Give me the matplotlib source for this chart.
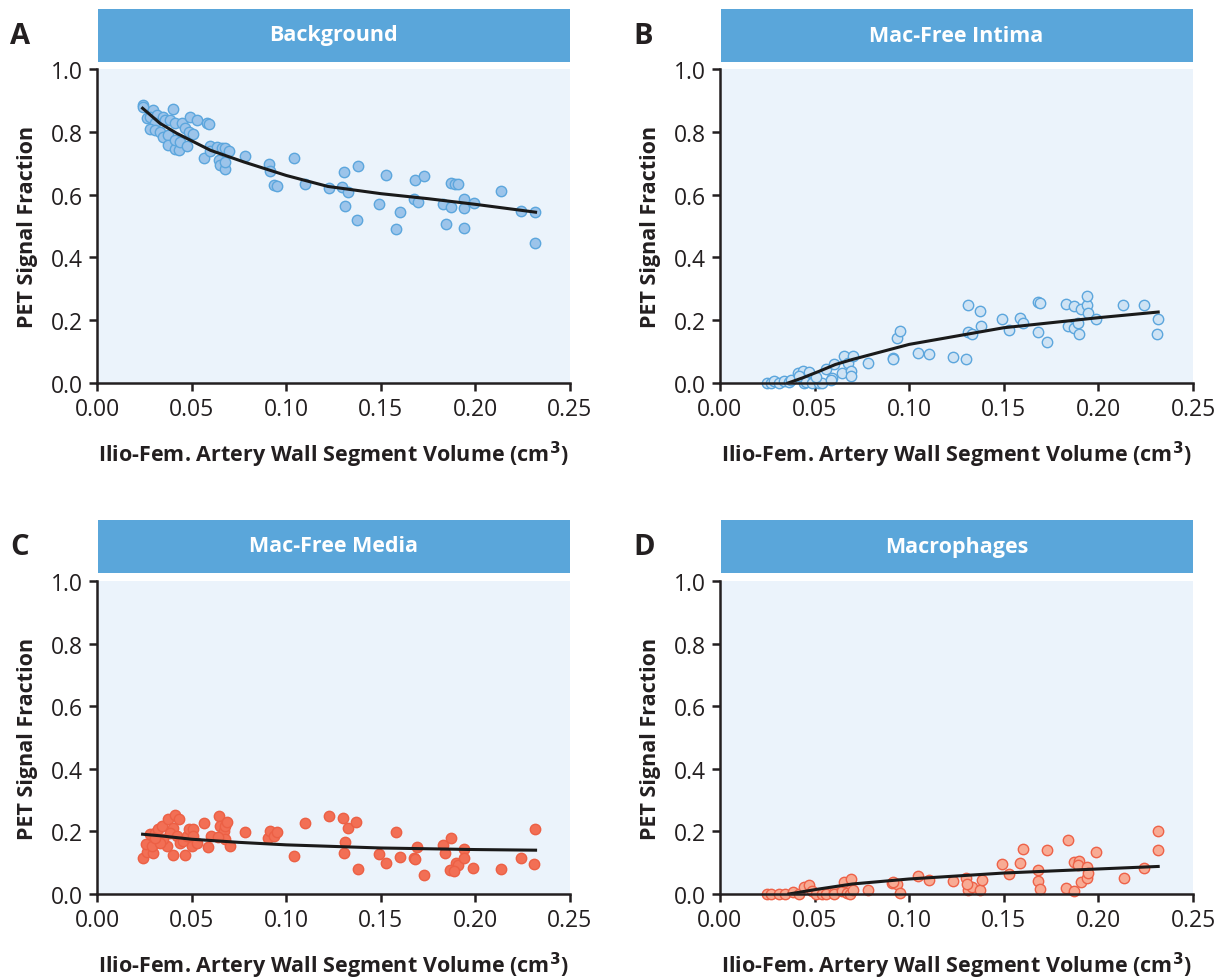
import matplotlib
matplotlib.use("Agg")
import matplotlib.pyplot as plt
from matplotlib.patches import Rectangle

plt.rcParams['font.family'] = ['Open Sans', 'DejaVu Sans']

# ---------------- data ----------------
bg_x = [0.0241, 0.0245, 0.0298, 0.0400, 0.0262, 0.0280, 0.0315, 0.0350, 0.0360, 0.0386,
        0.0413, 0.0448, 0.0466, 0.0307, 0.0280, 0.0307, 0.0333, 0.0350, 0.0377, 0.0377,
        0.0413, 0.0436, 0.0413, 0.0440, 0.0475, 0.0484, 0.0510, 0.0493, 0.0528, 0.0581,
        0.0590, 0.0563, 0.0595, 0.0595, 0.0634, 0.0661, 0.0679, 0.0696, 0.0643, 0.0648,
        0.0679, 0.0679, 0.0781, 0.0909, 0.0914, 0.0936, 0.0950, 0.1042, 0.1100, 0.1228,
        0.1295, 0.1329, 0.1308, 0.1378, 0.1311, 0.1373, 0.1490, 0.1529, 0.1600, 0.1582,
        0.1680, 0.1729, 0.1676, 0.1694, 0.1827, 0.1871, 0.1843, 0.1871, 0.1892, 0.1910,
        0.1942, 0.1940, 0.1942, 0.1990, 0.2135, 0.2243, 0.2314, 0.2314]
bg_y = [0.885, 0.880, 0.869, 0.872, 0.843, 0.848, 0.853, 0.848, 0.837, 0.837,
        0.827, 0.827, 0.811, 0.827, 0.808, 0.805, 0.800, 0.784, 0.789, 0.757,
        0.745, 0.743, 0.773, 0.768, 0.755, 0.798, 0.792, 0.848, 0.837, 0.827,
        0.826, 0.717, 0.755, 0.738, 0.752, 0.749, 0.749, 0.738, 0.709, 0.693,
        0.682, 0.704, 0.722, 0.699, 0.674, 0.631, 0.627, 0.718, 0.633, 0.621,
        0.624, 0.608, 0.672, 0.690, 0.565, 0.519, 0.571, 0.663, 0.544, 0.489,
        0.645, 0.659, 0.587, 0.578, 0.571, 0.560, 0.507, 0.637, 0.635, 0.633,
        0.585, 0.557, 0.495, 0.573, 0.610, 0.549, 0.544, 0.445]
bg_fit_x = [0.0241, 0.0333, 0.0422, 0.0600, 0.0776, 0.1000, 0.1220, 0.1500, 0.1750, 0.2000, 0.2318]
bg_fit_y = [0.875, 0.827, 0.795, 0.741, 0.704, 0.661, 0.626, 0.603, 0.587, 0.569, 0.544]

in_x = [0.0249, 0.0267, 0.0285, 0.0311, 0.0337, 0.0364, 0.0373, 0.0413, 0.0438, 0.0470,
        0.0443, 0.0417, 0.0452, 0.0488, 0.0523, 0.0541, 0.0509, 0.0558, 0.0602, 0.0594,
        0.0585, 0.0643, 0.0655, 0.0678, 0.0691, 0.0691, 0.0705, 0.0784, 0.0912, 0.0917,
        0.0938, 0.0952, 0.1046, 0.1104, 0.1230, 0.1300, 0.1309, 0.1309, 0.1332, 0.1373,
        0.1382, 0.1489, 0.1530, 0.1583, 0.1601, 0.1680, 0.1680, 0.1693, 0.1730, 0.1830,
        0.1871, 0.1839, 0.1871, 0.1898, 0.1892, 0.1910, 0.1940, 0.1942, 0.1945, 0.1988,
        0.2131, 0.2240, 0.2316, 0.2309]
in_y = [0.000, 0.000, 0.005, 0.000, 0.005, 0.002, 0.009, 0.032, 0.037, 0.034,
        0.000, 0.021, 0.002, 0.000, 0.000, 0.000, 0.019, 0.043, 0.062, 0.016,
        0.011, 0.032, 0.085, 0.064, 0.037, 0.023, 0.087, 0.064, 0.080, 0.078,
        0.144, 0.165, 0.096, 0.092, 0.082, 0.078, 0.250, 0.162, 0.155, 0.228,
        0.180, 0.203, 0.170, 0.208, 0.190, 0.164, 0.257, 0.256, 0.131, 0.253,
        0.245, 0.181, 0.175, 0.155, 0.192, 0.235, 0.247, 0.277, 0.224, 0.205,
        0.249, 0.249, 0.205, 0.155]
in_fit_x = [0.0360, 0.0435, 0.0523, 0.0610, 0.0700, 0.1000, 0.1500, 0.2000, 0.2316]
in_fit_y = [0.000, 0.016, 0.037, 0.059, 0.075, 0.123, 0.176, 0.208, 0.226]

md_x = [0.0241, 0.0262, 0.0259, 0.0298, 0.0289, 0.0280, 0.0307, 0.0324, 0.0342, 0.0377,
        0.0413, 0.0436, 0.0404, 0.0386, 0.0369, 0.0351, 0.0333, 0.0307, 0.0404, 0.0466,
        0.0422, 0.0439, 0.0457, 0.0475, 0.0484, 0.0510, 0.0507, 0.0502, 0.0528, 0.0563,
        0.0585, 0.0600, 0.0647, 0.0652, 0.0670, 0.0679, 0.0687, 0.0679, 0.0638, 0.0702,
        0.0781, 0.0904, 0.0913, 0.0936, 0.0950, 0.1042, 0.1100, 0.1228, 0.1299, 0.1329,
        0.1371, 0.1311, 0.1308, 0.1378, 0.1490, 0.1529, 0.1582, 0.1602, 0.1676, 0.1680,
        0.1690, 0.1729, 0.1830, 0.1839, 0.1871, 0.1896, 0.1910, 0.1866, 0.1889, 0.1940,
        0.1942, 0.1986, 0.2135, 0.2243, 0.2314, 0.2312]
md_y = [0.115, 0.134, 0.159, 0.130, 0.153, 0.191, 0.196, 0.207, 0.218, 0.239,
        0.252, 0.241, 0.212, 0.196, 0.153, 0.175, 0.164, 0.180, 0.125, 0.125,
        0.186, 0.164, 0.170, 0.186, 0.207, 0.207, 0.186, 0.154, 0.164, 0.228,
        0.150, 0.186, 0.250, 0.218, 0.202, 0.218, 0.231, 0.177, 0.182, 0.154,
        0.198, 0.180, 0.201, 0.186, 0.199, 0.122, 0.226, 0.250, 0.243, 0.211,
        0.230, 0.167, 0.132, 0.079, 0.129, 0.098, 0.198, 0.119, 0.115, 0.111,
        0.151, 0.060, 0.156, 0.132, 0.180, 0.098, 0.092, 0.077, 0.072, 0.145,
        0.116, 0.082, 0.081, 0.114, 0.207, 0.096]
md_fit_x = [0.0241, 0.0333, 0.0500, 0.0750, 0.1000, 0.1500, 0.2000, 0.2318]
md_fit_y = [0.191, 0.186, 0.175, 0.165, 0.157, 0.147, 0.142, 0.140]

mc_x = [0.0249, 0.0267, 0.0311, 0.0346, 0.0385, 0.0417, 0.0443, 0.0470, 0.0488, 0.0509,
        0.0541, 0.0558, 0.0602, 0.0603, 0.0643, 0.0673, 0.0686, 0.0655, 0.0691, 0.0705,
        0.0784, 0.0908, 0.0938, 0.0915, 0.0951, 0.1046, 0.1104, 0.1230, 0.1300, 0.1309,
        0.1332, 0.1304, 0.1376, 0.1383, 0.1491, 0.1530, 0.1583, 0.1601, 0.1680, 0.1680,
        0.1693, 0.1730, 0.1830, 0.1871, 0.1841, 0.1871, 0.1898, 0.1892, 0.1910, 0.1942,
        0.1940, 0.1945, 0.1988, 0.2133, 0.2240, 0.2313, 0.2313]
mc_y = [0.000, 0.000, 0.000, 0.000, 0.006, 0.000, 0.021, 0.029, 0.011, 0.000,
        0.000, 0.000, 0.007, 0.000, 0.011, 0.004, 0.000, 0.037, 0.048, 0.014,
        0.013, 0.035, 0.032, 0.037, 0.002, 0.059, 0.046, 0.043, 0.050, 0.014,
        0.021, 0.032, 0.014, 0.046, 0.095, 0.064, 0.098, 0.143, 0.078, 0.043,
        0.015, 0.142, 0.018, 0.011, 0.172, 0.102, 0.107, 0.094, 0.039, 0.087,
        0.050, 0.066, 0.134, 0.052, 0.082, 0.200, 0.141]
mc_fit_x = [0.0364, 0.0523, 0.0700, 0.1000, 0.1500, 0.2000, 0.2316]
mc_fit_y = [0.000, 0.016, 0.032, 0.048, 0.067, 0.080, 0.088]

panels = [
    ("A", "Background", bg_x, bg_y, bg_fit_x, bg_fit_y, "#9cc4ea", "#5ca6dd"),
    ("B", "Mac-Free Intima", in_x, in_y, in_fit_x, in_fit_y, "#cfe3f4", "#5ca6dd"),
    ("C", "Mac-Free Media", md_x, md_y, md_fit_x, md_fit_y, "#f26f55", "#ec6045"),
    ("D", "Macrophages", mc_x, mc_y, mc_fit_x, mc_fit_y, "#f8ab94", "#ee6248"),
]

W, H = 1227, 979
fig = plt.figure(figsize=(W / 100, H / 100), dpi=100)

# axes boxes in pixels: (left, top, right, bottom)
boxes = [(97, 70, 570, 384), (720, 70, 1193, 384),
         (97, 582, 570, 895), (720, 582, 1193, 895)]
header_tops = [10, 521]
dark = "#231f20"

for i, (letter, title, x, y, fx, fy, fc, ec) in enumerate(panels):
    l, t, r, b = boxes[i]
    ax = fig.add_axes([l / W, 1 - b / H, (r - l) / W, (b - t) / H])
    ax.set_facecolor("#ebf3fb")
    ax.scatter(x, y, s=56, c=fc, edgecolors=ec, linewidths=1.0, zorder=3,
               clip_on=False)
    ax.plot(fx, fy, color="#1a1a1a", lw=2.2, zorder=4)
    ax.set_xlim(0, 0.25)
    ax.set_ylim(0, 1.0)
    ax.set_xticks([0, 0.05, 0.10, 0.15, 0.20, 0.25])
    ax.set_xticklabels(["0.00", "0.05", "0.10", "0.15", "0.20", "0.25"])
    ax.set_yticks([0, 0.2, 0.4, 0.6, 0.8, 1.0])
    ax.set_yticklabels(["0.0", "0.2", "0.4", "0.6", "0.8", "1.0"])
    for s in ["top", "right"]:
        ax.spines[s].set_visible(False)
    for s in ["left", "bottom"]:
        ax.spines[s].set_color(dark)
        ax.spines[s].set_linewidth(1.8)
        ax.spines[s].set_zorder(5)
    ax.tick_params(direction="out", length=6, width=1.8, color=dark,
                   labelsize=16.5, labelcolor=dark, pad=4)
    ax.set_ylabel("PET Signal Fraction", fontsize=15.5, fontweight="bold",
                  color=dark, labelpad=9)
    ax.set_xlabel("Ilio-Fem. Artery Wall Segment Volume (cm$^\\mathbf{3}$)",
                  fontsize=15.5, fontweight="bold", color=dark, labelpad=13)

    # header strip
    ht = header_tops[i // 2]
    fig.patches.append(Rectangle(((l + 1) / W, 1 - (ht + 53) / H), (r - l - 1) / W, 53 / H,
                                 transform=fig.transFigure, facecolor="#5aa6da",
                                 edgecolor="none"))
    fig.text((l + r) / 2 / W, 1 - (ht + 26) / H, title, ha="center", va="center",
             color="white", fontsize=15.5, fontweight="bold")
    fig.text((l - 87) / W, 1 - (ht + 27) / H, letter, ha="left", va="center",
             color=dark, fontsize=21, fontweight="bold")

fig.savefig("out.png", dpi=100)
